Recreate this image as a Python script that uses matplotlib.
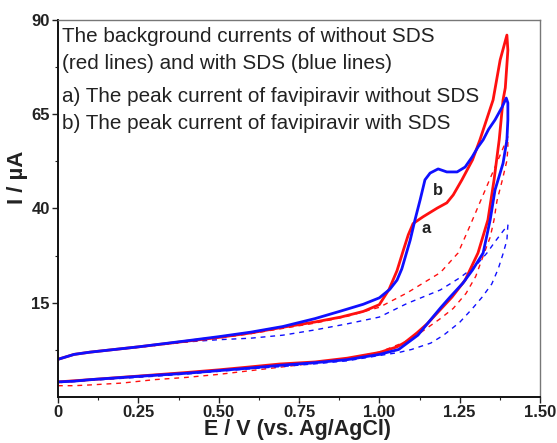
import numpy as np
import matplotlib
matplotlib.use("Agg")
import matplotlib.pyplot as plt
from matplotlib.ticker import FixedLocator

# ---------------- data ----------------
# Red solid: favipiravir without SDS (forward then reverse scan)
red_fwd_x = [0.00, 0.05, 0.10, 0.25, 0.40, 0.50, 0.60, 0.70, 0.80, 0.88, 0.95, 1.00, 1.03, 1.055,
             1.075, 1.09, 1.105, 1.136, 1.18, 1.21, 1.23, 1.257, 1.29, 1.313, 1.354, 1.376, 1.397]
red_fwd_y = [0.0, 1.3, 1.9, 3.3, 4.8, 5.8, 7.0, 8.5, 9.9, 11.2, 12.7, 14.5, 18.5, 23.5,
             29.0, 33.0, 36.0, 37.8, 40.1, 41.5, 43.6, 47.6, 52.9, 58.2, 68.8, 79.4, 86.0]
red_rev_x = [1.397, 1.400, 1.398, 1.392, 1.385, 1.373, 1.357, 1.338, 1.307, 1.267, 1.226, 1.189,
             1.15, 1.117, 1.08, 1.055, 1.00, 0.90, 0.80, 0.69, 0.60, 0.50, 0.40, 0.29, 0.10, 0.05, 0.00]
red_rev_y = [86.0, 82.0, 79.4, 72.0, 68.8, 58.2, 47.6, 37.0, 28.2, 21.0, 16.5, 13.1,
             9.5, 7.0, 4.5, 3.3, 1.8, 0.3, -0.7, -1.25, -2.0, -2.8, -3.5, -4.2, -5.4, -5.7, -6.0]

# Blue solid: favipiravir with SDS
blue_fwd_x = [0.00, 0.05, 0.10, 0.25, 0.40, 0.50, 0.60, 0.70, 0.80, 0.88, 0.95, 1.00, 1.033, 1.055,
              1.07, 1.096, 1.111, 1.127, 1.142, 1.158, 1.183, 1.21, 1.242, 1.267, 1.289, 1.307,
              1.323, 1.34, 1.36, 1.382, 1.395]
blue_fwd_y = [0.0, 1.3, 1.9, 3.3, 4.9, 6.0, 7.2, 8.7, 10.8, 12.8, 14.6, 16.3, 18.6, 21.0,
              24.0, 31.6, 37.0, 42.3, 47.6, 49.4, 50.5, 49.7, 49.7, 51.0, 53.7, 56.3,
              58.2, 61.0, 63.5, 66.9, 69.3]
blue_rev_x = [1.395, 1.400, 1.400, 1.397, 1.385, 1.36, 1.345, 1.323, 1.29, 1.26, 1.22, 1.19,
              1.15, 1.12, 1.06, 1.00, 0.90, 0.80, 0.69, 0.60, 0.50, 0.40, 0.29, 0.10, 0.05, 0.00]
blue_rev_y = [69.3, 68.0, 63.5, 58.2, 52.0, 44.9, 37.0, 28.2, 23.7, 20.2, 16.5, 13.6,
              9.5, 6.4, 2.6, 1.3, -0.1, -0.9, -1.6, -2.3, -3.0, -3.7, -4.3, -5.4, -5.8, -6.0]

# Red dashed: background current without SDS
redbg_fwd_x = [0.00, 0.05, 0.10, 0.25, 0.40, 0.50, 0.60, 0.70, 0.80, 0.90, 1.00, 1.086, 1.136,
               1.19, 1.245, 1.28, 1.32, 1.35, 1.38, 1.40]
redbg_fwd_y = [0.0, 1.3, 1.9, 3.2, 4.6, 5.6, 6.8, 8.2, 9.6, 11.4, 13.8, 17.6, 20.2,
               23.0, 28.2, 35.0, 43.0, 49.0, 55.0, 59.0]
redbg_rev_x = [1.40, 1.40, 1.397, 1.382, 1.366, 1.357, 1.345, 1.33, 1.30, 1.27, 1.23, 1.19, 1.127,
               1.08, 1.00, 0.90, 0.80, 0.70, 0.60, 0.50, 0.40, 0.30, 0.20, 0.10, 0.05, 0.00]
redbg_rev_y = [59.0, 56.0, 52.7, 47.3, 42.0, 37.0, 32.4, 29.0, 22.0, 17.5, 13.5, 10.8, 7.0,
               4.6, 1.9, 0.2, -1.0, -2.0, -3.0, -4.0, -4.8, -5.4, -6.3, -6.8, -7.0, -7.0]

# Blue dashed: background current with SDS
bluebg_fwd_x = [0.00, 0.05, 0.10, 0.25, 0.40, 0.50, 0.60, 0.70, 0.80, 0.90, 1.00, 1.086, 1.19,
                1.25, 1.30, 1.335, 1.36, 1.385, 1.40]
bluebg_fwd_y = [0.0, 1.3, 1.9, 3.2, 4.6, 5.2, 5.6, 6.4, 7.8, 9.4, 11.2, 14.8, 18.4,
                21.6, 24.8, 28.2, 31.2, 34.0, 35.6]
bluebg_rev_x = [1.40, 1.397, 1.385, 1.37, 1.35, 1.32, 1.29, 1.25, 1.20, 1.16, 1.10, 1.06, 1.00,
                0.90, 0.80, 0.70, 0.60, 0.50, 0.40, 0.30, 0.10, 0.00]
bluebg_rev_y = [35.6, 31.6, 28.0, 24.0, 20.0, 16.5, 13.5, 9.8, 6.4, 4.3, 2.6, 1.8, 1.0,
                -0.4, -1.2, -1.9, -2.5, -3.2, -3.9, -4.5, -5.6, -6.2]

x_ticks = [0, 0.25, 0.50, 0.75, 1.00, 1.25, 1.50]
x_tick_labels = ["0", "0.25", "0.50", "0.75", "1.00", "1.25", "1.50"]
y_ticks = [15, 40, 65, 90]
y_tick_labels = ["15", "40", "65", "90"]

legend_lines = ["The background currents of without SDS",
                "(red lines) and with SDS (blue lines)",
                "a) The peak current of favipiravir without SDS",
                "b) The peak current of favipiravir with SDS"]

# ---------------- drawing ----------------
W, H = 557, 443
fig = plt.figure(figsize=(W / 100, H / 100), dpi=100)
ax = fig.add_axes([58 / W, 1 - 397 / H, (540 - 58) / W, (397 - 20) / H])

RED = "#ff1010"
BLUE = "#1010ff"

def loop(fx, fy, rx, ry):
    return np.concatenate([fx, rx]), np.concatenate([fy, ry])

x, y = loop(redbg_fwd_x, redbg_fwd_y, redbg_rev_x, redbg_rev_y)
ax.plot(x, y, color=RED, lw=1.0, ls=(0, (3.5, 3.5)))
x, y = loop(bluebg_fwd_x, bluebg_fwd_y, bluebg_rev_x, bluebg_rev_y)
ax.plot(x, y, color=BLUE, lw=1.0, ls=(0, (3.5, 3.5)))
x, y = loop(red_fwd_x, red_fwd_y, red_rev_x, red_rev_y)
ax.plot(x, y, color=RED, lw=2.0, solid_joinstyle="round")
x, y = loop(blue_fwd_x, blue_fwd_y, blue_rev_x, blue_rev_y)
ax.plot(x, y, color=BLUE, lw=2.0, solid_joinstyle="round")

ax.set_xlim(0, 1.5)
ax.set_ylim(-10, 90)

ax.xaxis.set_major_locator(FixedLocator(x_ticks))
ax.xaxis.set_minor_locator(FixedLocator([0.125, 0.375, 0.625, 0.875, 1.125, 1.375]))
ax.yaxis.set_major_locator(FixedLocator(y_ticks))
ax.yaxis.set_minor_locator(FixedLocator([2.5, 27.5, 52.5, 77.5]))
ax.set_xticklabels(x_tick_labels)
ax.set_yticklabels(y_tick_labels)

for lab in ax.get_xticklabels() + ax.get_yticklabels():
    lab.set_fontfamily("Liberation Sans")
    lab.set_fontweight("bold")
    lab.set_fontsize(12)
    lab.set_color("#222222")

ax.tick_params(which="major", direction="out", length=4, width=1.0, color="#222222", pad=2)
ax.tick_params(which="minor", direction="out", length=2.5, width=0.8, color="#222222")
ax.tick_params(top=False, right=False)

for side in ["left", "bottom"]:
    ax.spines[side].set_linewidth(1.4)
    ax.spines[side].set_color("#111111")
for side in ["top", "right"]:
    ax.spines[side].set_linewidth(1.0)
    ax.spines[side].set_color("#777777")

fig.text(298 / W, 1 - 430 / H, "E / V (vs. Ag/AgCl)", ha="center", va="center",
         family="Liberation Sans", weight="bold", size=15.5, color="#222222")
fig.text(18 / W, 1 - 177 / H, "I / µA", ha="center", va="center", rotation=90,
         family="Liberation Sans", weight="bold", size=16, color="#222222")

baselines = [42, 69, 102, 129]
for txt, b in zip(legend_lines, baselines):
    fig.text(62 / W, 1 - b / H, txt, ha="left", va="baseline",
             family="Liberation Sans", size=14.9, color="#222222")

ax.text(1.146, 34.6, "a", ha="center", va="center", family="Liberation Sans",
        weight="bold", size=12, color="#222222")
ax.text(1.183, 44.9, "b", ha="center", va="center", family="Liberation Sans",
        weight="bold", size=12, color="#222222")

fig.savefig("out.png", dpi=100)
